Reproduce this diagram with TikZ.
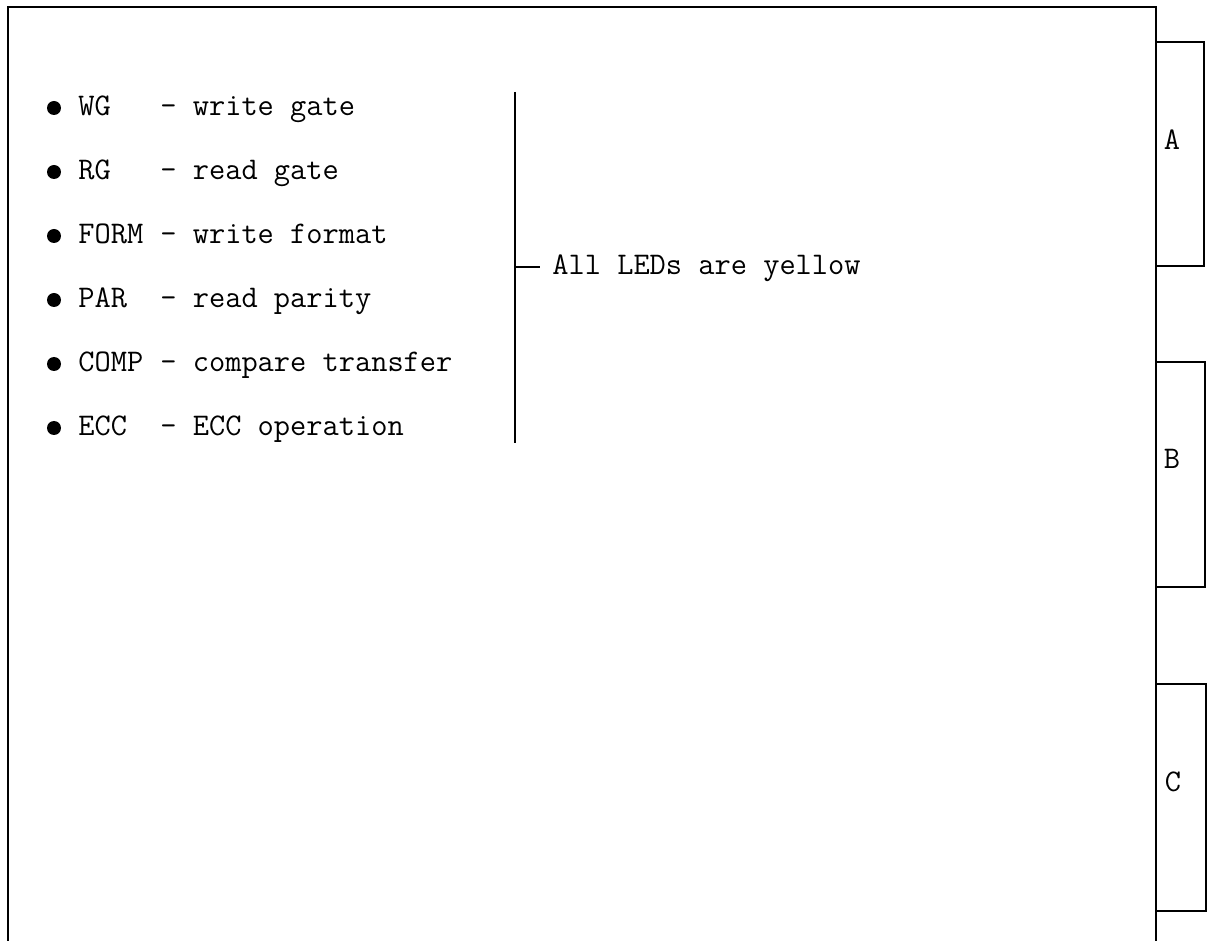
\documentclass[tikz,border=0pt]{standalone}
\usepackage{tikz}
\tikzset{
  ledtext/.style={font=\ttfamily\fontsize{15.75}{18}\selectfont, inner sep=0pt, anchor=base west},
  leddot/.style={circle, fill, inner sep=0pt, minimum size=7pt},
  frame/.style={line width=1pt},
}
\begin{document}
\begin{tikzpicture}[x=0.5pt, y=-0.5pt]
  \useasboundingbox (0,0) rectangle (1207,941);
  % panel outline
  \draw[frame] (8,941) -- (8,7) -- (1156,7) -- (1156,941);
  % connector tabs
  \draw[frame] (1156,42) -- (1204,42) -- (1204,266) -- (1156,266);
  \draw[frame] (1156,362) -- (1205,362) -- (1205,587) -- (1156,587);
  \draw[frame] (1156,684) -- (1206,684) -- (1206,911) -- (1156,911);
  \node[ledtext, anchor=center] (tabA) at (1172,140) {A};
  \node[ledtext, anchor=center] (tabB) at (1172,459) {B};
  \node[ledtext, anchor=center] (tabC) at (1173,782) {C};
  % LED list
  \foreach \nm/\desc [count=\i] in {WG/write gate, RG/read gate, FORM/write format,
      PAR/read parity, COMP/compare transfer, ECC/ECC operation} {
    \node[leddot] (dot\i) at (54, 44+64*\i) {};
    \node[ledtext] (name\i) at (78, 52+64*\i) {\nm};
    \node[ledtext] (desc\i) at (160, 52+64*\i) {- \desc};
  }
  % bracket
  \coordinate (brktop) at (515,92);
  \coordinate (brkbot) at (515,443);
  \coordinate (brkmid) at (515,267);
  \draw[line width=1.2pt] (brktop) -- (brkbot);
  \node[ledtext] (allyellow) at (552,275) {All LEDs are yellow};
  \draw[line width=1pt] (brkmid) -- ([xshift=-6pt]allyellow.west |- brkmid);
\end{tikzpicture}
\end{document}
